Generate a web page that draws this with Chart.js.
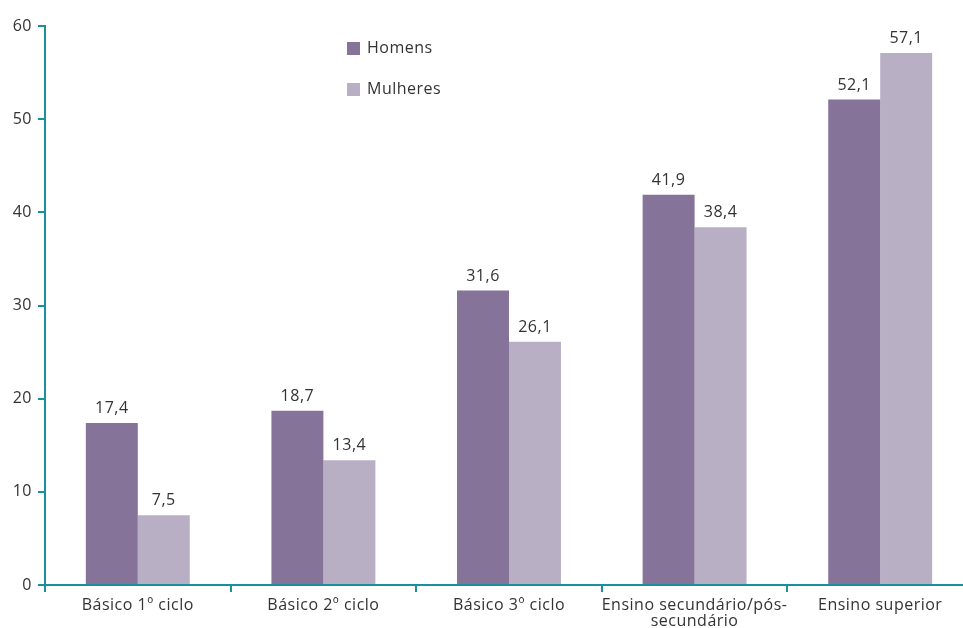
<!DOCTYPE html>
<html>
<head>
<meta charset="utf-8">
<script src="https://cdn.jsdelivr.net/npm/chart.js@4/dist/chart.umd.min.js"></script>
<style>
    html, body { margin: 0; padding: 0; background: #fff; overflow: hidden; }
    #wrap { width: 973px; height: 628px; }
</style>
</head>
<body>
<div id="wrap"><canvas id="grafico"></canvas></div>
<script>
// --- DADOS ---
const categorias = ['Básico 1º ciclo', 'Básico 2º ciclo', 'Básico 3º ciclo', ['Ensino secundário/pós-', 'secundário'], 'Ensino superior'];
const homens = [17.4, 18.7, 31.6, 41.9, 52.1];
const mulheres = [7.5, 13.4, 26.1, 38.4, 57.1];
const ticksY = [0, 10, 20, 30, 40, 50, 60];

const corEixo = '#1b8f9b';
const corTexto = '#333333';
const fonte = "'Open Sans', sans-serif";

// espaçamento entre letras para todo o texto do canvas
const espacamento = {
    id: 'espacamento',
    beforeDraw(chart) { chart.ctx.letterSpacing = '0.5px'; }
};

// rótulos de valor em cima das barras
const rotulos = {
    id: 'rotulos',
    afterDatasetsDraw(chart) {
        const ctx = chart.ctx;
        ctx.save();
        ctx.font = '16px ' + fonte;
        ctx.fillStyle = corTexto;
        ctx.textAlign = 'center';
        ctx.textBaseline = 'alphabetic';
        chart.data.datasets.forEach((ds, i) => {
            chart.getDatasetMeta(i).data.forEach((bar, j) => {
                const txt = ds.data[j].toFixed(1).replace('.', ',');
                ctx.fillText(txt, bar.x, bar.y - 10);
            });
        });
        ctx.restore();
    }
};

// legenda vertical dentro do gráfico
const legenda = {
    id: 'legenda',
    afterDraw(chart) {
        const ctx = chart.ctx;
        ctx.save();
        ctx.font = '16px ' + fonte;
        ctx.textBaseline = 'middle';
        chart.data.datasets.forEach((ds, i) => {
            const y = 48 + i * 41;
            ctx.fillStyle = ds.backgroundColor;
            ctx.fillRect(347, y - 6, 13, 13);
            ctx.fillStyle = corTexto;
            ctx.fillText(ds.label, 367, y);
        });
        ctx.restore();
    }
};

new Chart(document.getElementById('grafico'), {
    type: 'bar',
    data: {
        labels: categorias,
        datasets: [
            { label: 'Homens', data: homens, backgroundColor: '#857399' },
            { label: 'Mulheres', data: mulheres, backgroundColor: '#b8afc4' }
        ]
    },
    options: {
        responsive: true,
        maintainAspectRatio: false,
        animation: false,
        categoryPercentage: 0.56,
        barPercentage: 1,
        layout: { padding: { top: 26, left: 0, right: 0, bottom: 0 } },
        plugins: { legend: { display: false }, tooltip: { enabled: false } },
        scales: {
            x: {
                afterFit: s => { s.height = 43; },
                border: { color: corEixo, width: 2 },
                grid: { offset: true, drawOnChartArea: false, color: corEixo, lineWidth: 2, tickLength: 7 },
                ticks: { color: corTexto, font: { family: fonte, size: 16, lineHeight: 1 }, padding: 5, maxRotation: 0, autoSkip: false }
            },
            y: {
                min: 0,
                max: 60,
                afterFit: s => { s.width = 45; },
                afterBuildTicks: s => { s.ticks = ticksY.map(v => ({ value: v })); },
                border: { color: corEixo, width: 2 },
                grid: { drawOnChartArea: false, color: corEixo, lineWidth: 2, tickLength: 7 },
                ticks: { color: corTexto, font: { family: fonte, size: 16 }, padding: 6 }
            }
        }
    },
    plugins: [espacamento, rotulos, legenda]
});
</script>
</body>
</html>
